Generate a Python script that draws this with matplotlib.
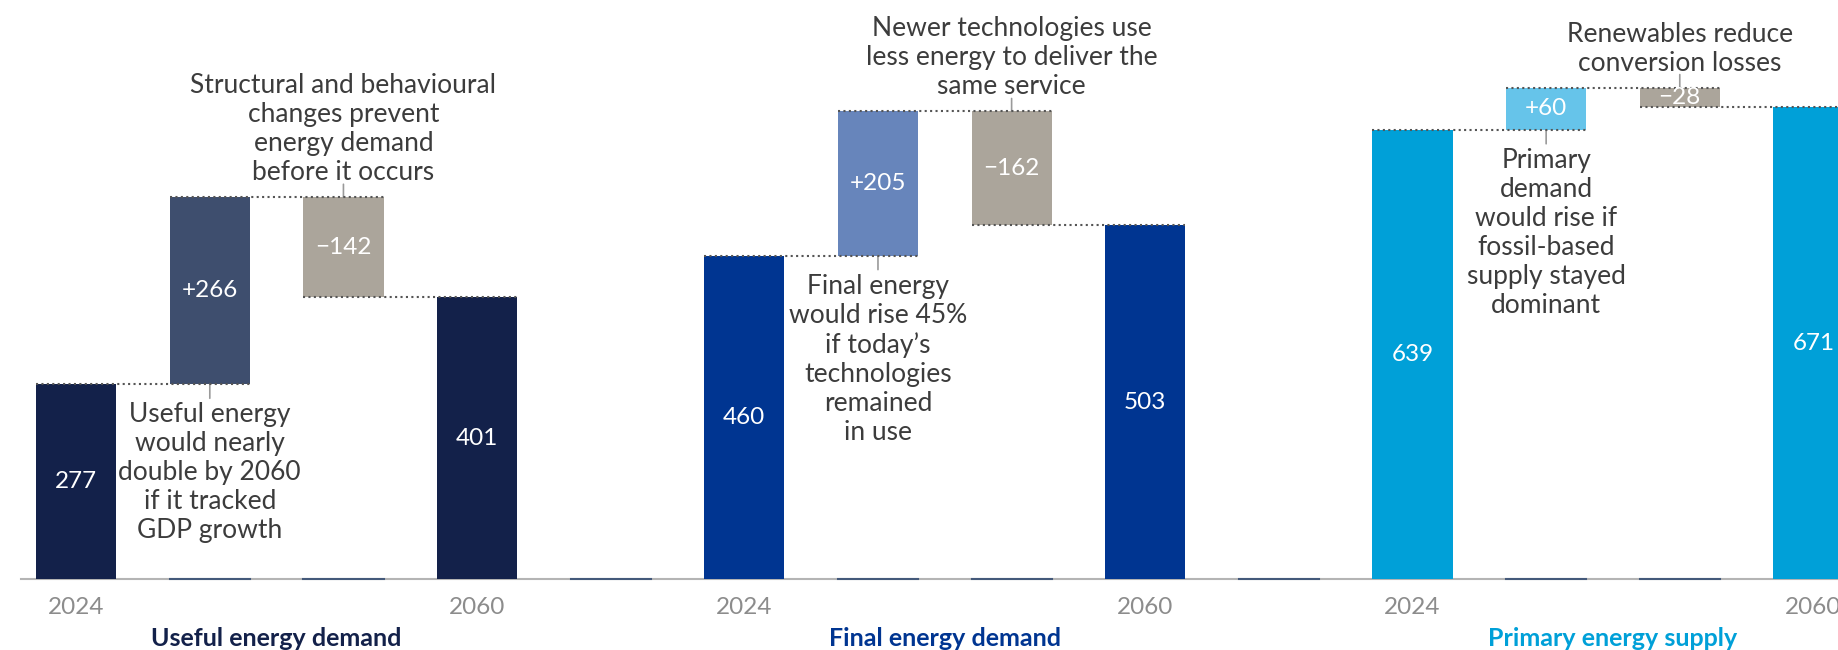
import matplotlib.pyplot as plt

plt.rcParams['font.family'] = ['Lato', 'DejaVu Sans']

panel_titles = ['Useful energy demand', 'Final energy demand', 'Primary energy supply']
years = ['2024', '2060']
start_2024 = [277, 460, 639]
growth = [266, 205, 60]
savings = [-142, -162, -28]
end_2060 = [401, 503, 671]

growth_notes = [
    'Useful energy\nwould nearly\ndouble by 2060\nif it tracked\nGDP growth',
    'Final energy\nwould rise 45%\nif today\u2019s\ntechnologies\nremained\nin use',
    'Primary\ndemand\nwould rise if\nfossil-based\nsupply stayed\ndominant',
]
savings_notes = [
    'Structural and behavioural\nchanges prevent\nenergy demand\nbefore it occurs',
    'Newer technologies use\nless energy to deliver the\nsame service',
    'Renewables reduce\nconversion losses',
]

total_colors = ['#13214a', '#003591', '#00a0d8']
growth_colors = ['#3e4e6e', '#6785bb', '#66c4ea']
savings_color = '#aba59b'
note_color = '#3c3c3c'
year_color = '#8c8c8c'

w = 0.6
fs_num = 17.5
fs_note = 19
fs_title = 18

fig = plt.figure(figsize=(18.38, 6.5), dpi=100)
ax = fig.add_axes([0, 0, 1, 1])
ax.set_xlim(-0.570, 13.184)
ax.set_ylim(-101, 823.6)
ax.axis('off')

# grey baseline across the whole chart
ax.plot([-0.413, 14], [0, 0], color='#b4b4b4', lw=1.5, zorder=1, clip_on=False)

dots = dict(color='#555555', lw=1.5, linestyle=(0, (1, 1.6)), zorder=4)
leader = dict(arrowstyle='-', color='#9a9a9a', lw=1.2, shrinkA=0, shrinkB=0)

for p in range(3):
    x0 = 5 * p
    s, g, d, e = start_2024[p], growth[p], savings[p], end_2060[p]

    ax.bar(x0, s, w, color=total_colors[p], zorder=3)
    ax.bar(x0 + 1, g, w, bottom=s, color=growth_colors[p], zorder=3)
    sav = ax.bar(x0 + 2, d, w, bottom=s + g, color=savings_color, zorder=3)
    ax.bar(x0 + 3, e, w, color=total_colors[p], zorder=3)

    # short dark stubs on the baseline under floating bars and the gap slot
    for k in (1, 2, 4):
        ax.plot([x0 + k - w / 2, x0 + k + w / 2], [0, 0], color='#44597a',
                lw=1.5, zorder=2, clip_on=False)

    # dotted connectors between steps
    ax.plot([x0 - w / 2, x0 + 1 + w / 2], [s, s], **dots)
    ax.plot([x0 + 1 - w / 2, x0 + 2 + w / 2], [s + g, s + g], **dots)
    ax.plot([x0 + 2 - w / 2, x0 + 3 + w / 2], [e, e], **dots)

    # value labels
    ax.text(x0, s / 2, f'{s}', color='white', fontsize=fs_num, ha='center', va='center', zorder=5)
    ax.text(x0 + 3, e / 2, f'{e}', color='white', fontsize=fs_num, ha='center', va='center', zorder=5)
    ax.text(x0 + 1, s + g / 2, f'+{g}', color='white', fontsize=fs_num, ha='center', va='center', zorder=5)
    t = ax.text(x0 + 2, s + g + d / 2, f'\u2212{-d}', color='white', fontsize=fs_num,
                ha='center', va='center', zorder=5)
    t.set_clip_path(sav.patches[0])

    # notes with short leader lines
    ax.annotate('', xy=(x0 + 1, s), xytext=(0, -14), textcoords='offset pixels',
                arrowprops=leader)
    ax.annotate(growth_notes[p], xy=(x0 + 1, s), xytext=(0, -18), textcoords='offset pixels',
                ha='center', va='top', fontsize=fs_note, color=note_color, linespacing=1.2)
    ax.annotate('', xy=(x0 + 2, s + g), xytext=(0, 13), textcoords='offset pixels',
                arrowprops=leader)
    ax.annotate(savings_notes[p], xy=(x0 + 2, s + g), xytext=(0, 12), textcoords='offset pixels',
                ha='center', va='bottom', fontsize=fs_note, color=note_color, linespacing=1.2)

    # year labels and panel title
    for k, yr in zip((0, 3), years):
        ax.text(x0 + k, -41, yr, color=year_color, fontsize=fs_num, ha='center', va='center')
    ax.text(x0 + 1.5, -84, panel_titles[p], color=total_colors[p], fontsize=fs_title,
            fontweight='bold', ha='center', va='center')

fig.savefig('out.png', dpi=100)
